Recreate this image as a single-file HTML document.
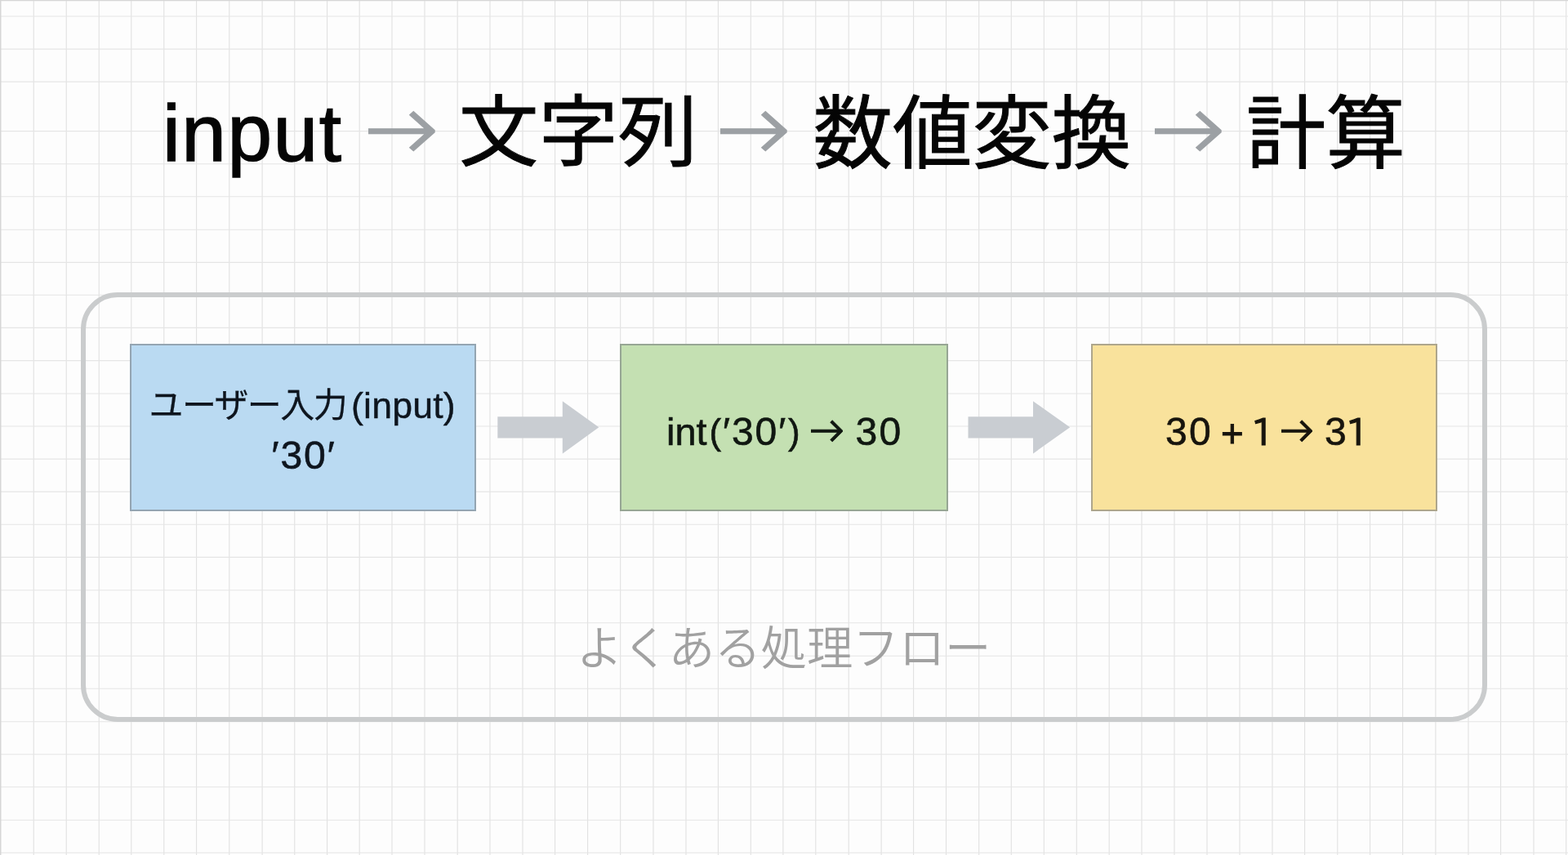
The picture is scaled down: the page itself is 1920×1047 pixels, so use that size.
<!DOCTYPE html>
<html lang="ja">
<head>
<meta charset="utf-8">
<title>input → 文字列 → 数値変換 → 計算</title>
<style>
html,body{margin:0;padding:0;}
body{width:1920px;height:1047px;overflow:hidden;background:#fdfdfd;position:relative;
  font-family:"Liberation Sans","Noto Sans CJK JP",sans-serif;color:#000;}
#grid{position:absolute;left:0;top:0;width:1920px;height:1047px;}
#grid line{stroke:#e1e1e1;stroke-width:1.1;}
#grid .h line{stroke:#e5e5e5;}
#grid .edge line{stroke:#d6d6d6;stroke-width:1.5;}
.abs{position:absolute;white-space:nowrap;line-height:1;margin:0;padding:0;}
.jp{font-family:"Noto Sans CJK JP","Liberation Sans",sans-serif;}
.lat{font-family:"Liberation Sans","Noto Sans CJK JP",sans-serif;}
.arr{font-family:"DejaVu Sans","Liberation Sans",sans-serif;display:block;overflow:hidden;}
.arr .g{position:absolute;display:block;line-height:1;white-space:nowrap;transform-origin:100% 50%;}
h1{margin:0;padding:0;font-size:inherit;font-weight:inherit;}
/* title */
.title{font-weight:500;color:#050505;}
.title .jp{font-size:97.4px;font-weight:400;-webkit-text-stroke:1px #050505;}
.title .lat{font-size:98.2px;font-weight:400;letter-spacing:1.5px;-webkit-text-stroke:1.4px #050505;}
.title .arr{width:90px;height:82px;color:#9ca0a4;}
.title .arr .g{font-size:127px;font-weight:200;-webkit-text-stroke:1.16px #9ca0a4;transform:scale(1.0575,.9417);right:0;top:-25.9px;}
#t2{transform:scaleY(.981);transform-origin:50% 12%;}
#a1 .g{right:2.7px;}
#a2 .g{right:2.4px;}
#a3 .g{right:2.8px;}
/* container */
.flow{position:absolute;left:99px;top:358px;width:1722px;height:526px;box-sizing:border-box;border:6px solid #cacccd;border-radius:45px;}
.box{position:absolute;box-sizing:border-box;border:2px solid #999;}
.b1{left:54px;top:57px;width:424px;height:205px;background:#badaf2;border-color:#94a5b2;}
.b2{left:654px;top:57px;width:402px;height:205px;background:#c4e0b2;border-color:#97a694;}
.b3{left:1231px;top:57px;width:424px;height:205px;background:#f9e29c;border-color:#aea68c;}
.blk{position:absolute;overflow:visible;}
.blk polygon{fill:#c9cdd2;}
.ln{margin:0;padding:0;color:#10141a;will-change:transform;}
.l1{color:#0e151e;}
.l2{color:#101711;}
.l3{color:#17140d;}
.box .jp{font-size:42px;font-weight:400;letter-spacing:-1.6px;-webkit-text-stroke:.25px currentColor;}
.box .lat{font-size:44.6px;letter-spacing:.2px;-webkit-text-stroke:.4px currentColor;}
.box .num{font-family:"Liberation Sans","Noto Sans CJK JP",sans-serif;font-size:48.1px;-webkit-text-stroke:.6px currentColor;}
.box .d{letter-spacing:2.2px;}
.box .one{font-family:"IPAPGothic","IPAGothic","Liberation Sans",sans-serif;font-size:44.6px;-webkit-text-stroke:1.1px currentColor;}
#b2a{font-size:46.8px;letter-spacing:0;}
.box .par{font-size:44px;}
#b3p{font-size:47.5px;-webkit-text-stroke-width:.95px;}
.box .q{letter-spacing:1.9px;}
.box .arr{width:42px;height:46px;}
.box .arr .g{font-size:62.6px;font-weight:200;-webkit-text-stroke:1px currentColor;transform:translateY(-.4px) scale(1.0224,1.02);right:0;top:-9.4px;}
#b2b .g{right:.7px;}
#b3b .g{right:1.9px;}
.cap{font-size:56.4px;font-weight:350;color:#a1a1a1;margin:0;}
</style>
</head>
<body>
<svg id="grid" width="1920" height="1047" viewBox="0 0 1920 1047" aria-hidden="true">
<g class="v">
<line x1="41.25" y1="0" x2="41.25" y2="1047"/>
<line x1="81.25" y1="0" x2="81.25" y2="1047"/>
<line x1="121.25" y1="0" x2="121.25" y2="1047"/>
<line x1="160.75" y1="0" x2="160.75" y2="1047"/>
<line x1="200.75" y1="0" x2="200.75" y2="1047"/>
<line x1="240.6" y1="0" x2="240.6" y2="1047"/>
<line x1="280.75" y1="0" x2="280.75" y2="1047"/>
<line x1="321.1" y1="0" x2="321.1" y2="1047"/>
<line x1="360.75" y1="0" x2="360.75" y2="1047"/>
<line x1="400.6" y1="0" x2="400.6" y2="1047"/>
<line x1="440.2" y1="0" x2="440.2" y2="1047"/>
<line x1="480" y1="0" x2="480" y2="1047"/>
<line x1="520" y1="0" x2="520" y2="1047"/>
<line x1="560.2" y1="0" x2="560.2" y2="1047"/>
<line x1="600" y1="0" x2="600" y2="1047"/>
<line x1="640" y1="0" x2="640" y2="1047"/>
<line x1="679.6" y1="0" x2="679.6" y2="1047"/>
<line x1="719.6" y1="0" x2="719.6" y2="1047"/>
<line x1="759.7" y1="0" x2="759.7" y2="1047"/>
<line x1="800" y1="0" x2="800" y2="1047"/>
<line x1="840" y1="0" x2="840" y2="1047"/>
<line x1="879.4" y1="0" x2="879.4" y2="1047"/>
<line x1="919.3" y1="0" x2="919.3" y2="1047"/>
<line x1="958.9" y1="0" x2="958.9" y2="1047"/>
<line x1="998.8" y1="0" x2="998.8" y2="1047"/>
<line x1="1039.2" y1="0" x2="1039.2" y2="1047"/>
<line x1="1079.1" y1="0" x2="1079.1" y2="1047"/>
<line x1="1118.6" y1="0" x2="1118.6" y2="1047"/>
<line x1="1158.5" y1="0" x2="1158.5" y2="1047"/>
<line x1="1198.7" y1="0" x2="1198.7" y2="1047"/>
<line x1="1238.3" y1="0" x2="1238.3" y2="1047"/>
<line x1="1278.3" y1="0" x2="1278.3" y2="1047"/>
<line x1="1318.3" y1="0" x2="1318.3" y2="1047"/>
<line x1="1358.2" y1="0" x2="1358.2" y2="1047"/>
<line x1="1398" y1="0" x2="1398" y2="1047"/>
<line x1="1438" y1="0" x2="1438" y2="1047"/>
<line x1="1478" y1="0" x2="1478" y2="1047"/>
<line x1="1518" y1="0" x2="1518" y2="1047"/>
<line x1="1558" y1="0" x2="1558" y2="1047"/>
<line x1="1597.6" y1="0" x2="1597.6" y2="1047"/>
<line x1="1637.8" y1="0" x2="1637.8" y2="1047"/>
<line x1="1677.6" y1="0" x2="1677.6" y2="1047"/>
<line x1="1717.6" y1="0" x2="1717.6" y2="1047"/>
<line x1="1757.9" y1="0" x2="1757.9" y2="1047"/>
<line x1="1798" y1="0" x2="1798" y2="1047"/>
<line x1="1837.6" y1="0" x2="1837.6" y2="1047"/>
<line x1="1878" y1="0" x2="1878" y2="1047"/>
<line x1="1917.7" y1="0" x2="1917.7" y2="1047"/>
</g>
<g class="h">
<line x1="0" y1="20" x2="1920" y2="20"/>
<line x1="0" y1="60.1" x2="1920" y2="60.1"/>
<line x1="0" y1="100.1" x2="1920" y2="100.1"/>
<line x1="0" y1="160.6" x2="1920" y2="160.6"/>
<line x1="0" y1="200.8" x2="1920" y2="200.8"/>
<line x1="0" y1="240.8" x2="1920" y2="240.8"/>
<line x1="0" y1="281.2" x2="1920" y2="281.2"/>
<line x1="0" y1="321.4" x2="1920" y2="321.4"/>
<line x1="0" y1="361.3" x2="1920" y2="361.3"/>
<line x1="0" y1="401.4" x2="1920" y2="401.4"/>
<line x1="0" y1="441.6" x2="1920" y2="441.6"/>
<line x1="0" y1="482" x2="1920" y2="482"/>
<line x1="0" y1="522" x2="1920" y2="522"/>
<line x1="0" y1="562.1" x2="1920" y2="562.1"/>
<line x1="0" y1="602.1" x2="1920" y2="602.1"/>
<line x1="0" y1="642.2" x2="1920" y2="642.2"/>
<line x1="0" y1="682.4" x2="1920" y2="682.4"/>
<line x1="0" y1="722.7" x2="1920" y2="722.7"/>
<line x1="0" y1="762.8" x2="1920" y2="762.8"/>
<line x1="0" y1="803.2" x2="1920" y2="803.2"/>
<line x1="0" y1="843.3" x2="1920" y2="843.3"/>
<line x1="0" y1="883.7" x2="1920" y2="883.7"/>
<line x1="0" y1="923.8" x2="1920" y2="923.8"/>
<line x1="0" y1="963.8" x2="1920" y2="963.8"/>
<line x1="0" y1="1004.2" x2="1920" y2="1004.2"/>
<line x1="0" y1="1044.3" x2="1920" y2="1044.3"/>
</g>
<g class="edge"><line x1="0.7" y1="0" x2="0.7" y2="1047"/><line x1="0" y1="0.4" x2="1920" y2="0.4"/></g>
</svg>

<h1 class="title">
<span class="abs lat" id="t1" style="left:199px;top:114px;">input</span>
<span class="abs arr" id="a1" style="left:451px;top:120px;"><span class="g">→</span></span>
<span class="abs jp" id="t2" style="left:562px;top:107px;">文字列</span>
<span class="abs arr" id="a2" style="left:882px;top:120px;"><span class="g">→</span></span>
<span class="abs jp" id="t3" style="left:995.5px;top:107px;">数値変換</span>
<span class="abs arr" id="a3" style="left:1414px;top:120px;"><span class="g">→</span></span>
<span class="abs jp" id="t4" style="left:1526px;top:107px;">計算</span>
</h1>

<main class="flow">
<div class="box b1">
<p class="ln l1"><span class="abs jp" id="b1a" style="left:21.5px;top:49px;">ユーザー入力</span><span class="abs lat" id="b1b" style="left:269px;top:52px;">(input)</span></p>
<p class="ln l1"><span class="abs num q" id="b1c" style="left:171.5px;top:110px;">′30′</span></p>
</div>
<svg class="blk" style="left:503px;top:125px;" width="128" height="68" viewBox="608 489 128 68"><polygon points="609.3,510.2 688.8,510.2 688.8,491.2 733.3,523.3 688.8,555.4 688.8,536.4 609.3,536.4"/></svg>
<div class="box b2">
<p class="ln l2"><span class="abs num" id="b2a" style="left:55px;top:83px;">int</span><span class="abs num par" id="b2l" style="left:107.5px;top:84px;">(</span><span class="abs num q" id="b2q" style="left:124px;top:81px;">′30′</span><span class="abs num par" id="b2r" style="left:204px;top:84px;">)</span> <span class="abs arr" id="b2b" style="left:232px;top:82px;"><span class="g">→</span></span> <span class="abs num d" id="b2c" style="left:286.5px;top:81px;">30</span></p>
</div>
<svg class="blk" style="left:1079px;top:125px;" width="128" height="68" viewBox="1184 489 128 68"><polygon points="1185.5,510.2 1265,510.2 1265,491.2 1310.2,523.3 1265,555.4 1265,536.4 1185.5,536.4"/></svg>
<div class="box b3">
<p class="ln l3"><span class="abs num d" id="b3a" style="left:89px;top:81px;">30</span> <span class="abs num" id="b3p" style="left:157px;top:84px;">+</span> <span class="abs num one" id="b3o" style="left:194px;top:83px;">1</span> <span class="abs arr" id="b3b" style="left:231px;top:82px;"><span class="g">→</span></span> <span class="abs num d" id="b3c" style="left:284px;top:81px;">3</span><span class="abs num one" id="b3d" style="left:310px;top:83px;">1</span></p>
</div>
<p class="abs jp cap" id="cap" style="left:601px;top:398px;">よくある処理フロー</p>
</main>
</body>
</html>
